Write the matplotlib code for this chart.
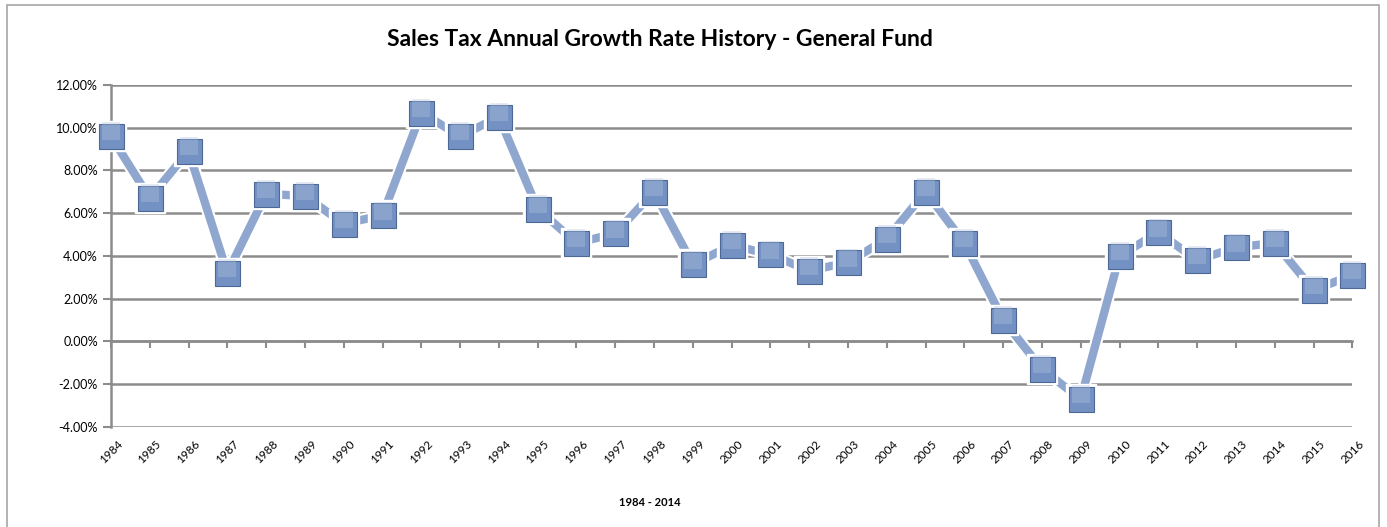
import matplotlib.pyplot as plt
import matplotlib.patheffects as pe
from matplotlib.patches import Rectangle
from matplotlib.ticker import FuncFormatter

years = list(range(1984, 2017))
growth = [9.6, 6.7, 8.9, 3.2, 6.9, 6.8, 5.5, 5.9, 10.7, 9.6, 10.5, 6.2, 4.6, 5.05,
          7.0, 3.6, 4.5, 4.07, 3.3, 3.7, 4.8, 7.0, 4.6, 1.0, -1.3, -2.7, 4.0, 5.1,
          3.8, 4.4, 4.6, 2.4, 3.1]
yticks = [-4, -2, 0, 2, 4, 6, 8, 10, 12]

plt.rcParams['font.family'] = ['Lato', 'DejaVu Sans']
fig = plt.figure(figsize=(13.87, 5.27), dpi=100)
ax = fig.add_axes([0.080, 0.190, 0.895, 0.649])

# outer chart frame
fig.patches.append(Rectangle((0.005, -0.02), 0.989, 1.01, transform=fig.transFigure,
                             fill=False, edgecolor='#a6a6a6', linewidth=1.2))

for v in yticks:
    ax.axhline(v, color='#8c8c8c', linewidth=1.8, zorder=1)

ax.plot(years, growth, color='#8fa6cf', linewidth=6, solid_capstyle='butt', zorder=3,
        clip_on=False,
        path_effects=[pe.Stroke(linewidth=9, foreground='white'), pe.Normal()])
ax.plot(years, growth, linestyle='none', marker='s', markersize=22, clip_on=False,
        markerfacecolor='white', markeredgecolor='white', zorder=4)
ax.plot(years, growth, linestyle='none', marker='s', markersize=18, clip_on=False,
        markerfacecolor='#7391c2', markeredgecolor='#4e6895', markeredgewidth=0.8, zorder=5)
# soft highlight on the top of each marker
ax.plot(years, [g + 0.22 for g in growth], linestyle='none', marker='s', markersize=13,
        clip_on=False, markerfacecolor='#b4c6e4', markeredgewidth=0, alpha=0.35, zorder=6)

ax.set_xlim(1984, 2016)
ax.set_ylim(-4, 12)
ax.set_yticks(yticks)
ax.yaxis.set_major_formatter(FuncFormatter(lambda v, p: f'{v:.2f}%'))
ax.tick_params(axis='y', length=6, width=1.5, color='#8c8c8c', labelsize=9)
ax.set_xticks(years)
ax.set_xticklabels([str(y) for y in years], rotation=45, fontsize=8.5)
ax.tick_params(axis='x', length=0, pad=8)
for s in ['top', 'right', 'bottom']:
    ax.spines[s].set_visible(False)
ax.spines['left'].set_color('#8c8c8c')
ax.spines['left'].set_linewidth(1.8)

# zero axis line with tick marks
sec = ax.secondary_xaxis(0.25)
sec.set_xticks(years)
sec.set_xticklabels([])
sec.tick_params(length=5, width=1.5, color='#8c8c8c')
sec.spines['bottom'].set_color('#8c8c8c')
sec.spines['bottom'].set_linewidth(1.8)

ax.set_xlabel('1984 - 2014', fontsize=8, fontweight='bold')
ax.xaxis.set_label_coords(0.434, -0.205)
fig.suptitle('Sales Tax Annual Growth Rate History - General Fund', x=0.476, y=0.945,
             fontsize=16.5, fontweight='bold')

fig.savefig('out.png', dpi=100)
